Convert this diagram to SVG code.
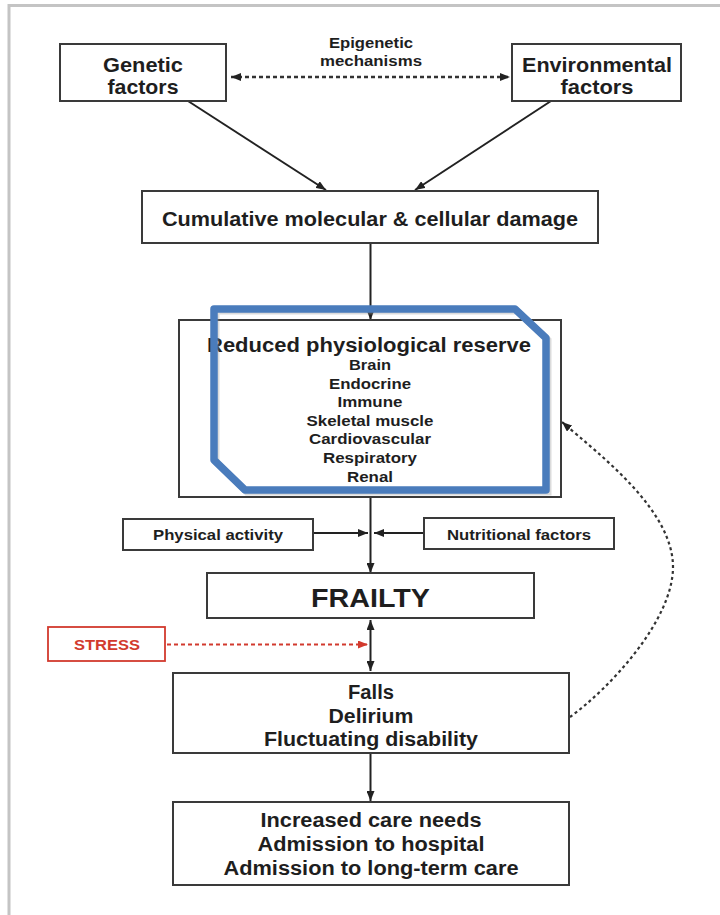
<svg xmlns="http://www.w3.org/2000/svg" width="720" height="915" viewBox="0 0 720 915">
<style>
.box{fill:#fff;stroke:#3a3a3a;stroke-width:2}
.t{font-family:"Liberation Sans",Arial,sans-serif;font-weight:bold;fill:#1e1e1e;text-anchor:middle}
.ln{fill:none;stroke:#222;stroke-width:2}
.dot{fill:none;stroke:#333;stroke-width:2.5;stroke-dasharray:4 3}
.red{fill:none;stroke:#d23a2e;stroke-width:2;stroke-dasharray:4 3}
</style>
<defs>
<marker id="ah" viewBox="0 0 10 8" refX="10" refY="4" markerWidth="10" markerHeight="8" markerUnits="userSpaceOnUse" orient="auto-start-reverse"><path d="M0,0 L10,4 L0,8 Z" fill="#222"/></marker>
<marker id="ahr" viewBox="0 0 10 8" refX="10" refY="4" markerWidth="10" markerHeight="8" markerUnits="userSpaceOnUse" orient="auto"><path d="M0,0 L10,4 L0,8 Z" fill="#d23a2e"/></marker>
</defs>
<rect width="720" height="915" fill="#fff"/>
<path d="M9,915 V5.5 H720" fill="none" stroke="#c4c4c4" stroke-width="3"/>

<g id="connectors">
<line class="dot" x1="231" y1="77" x2="510" y2="77" marker-start="url(#ah)" marker-end="url(#ah)"/>
<line class="ln" x1="188" y1="101" x2="326" y2="190" marker-end="url(#ah)"/>
<line class="ln" x1="551" y1="101" x2="415" y2="190" marker-end="url(#ah)"/>
<line class="ln" x1="370.5" y1="243" x2="370.5" y2="320" marker-end="url(#ah)"/>
<line class="ln" x1="370.5" y1="497" x2="370.5" y2="573" marker-end="url(#ah)"/>
<line class="ln" x1="313" y1="533" x2="368" y2="533" marker-end="url(#ah)"/>
<line class="ln" x1="424" y1="533" x2="374" y2="533" marker-end="url(#ah)"/>
<line class="ln" x1="370.5" y1="620" x2="370.5" y2="671" marker-start="url(#ah)" marker-end="url(#ah)"/>
<line class="red" x1="167" y1="644.5" x2="368" y2="644.5" marker-end="url(#ahr)"/>
<line class="ln" x1="370.5" y1="753" x2="370.5" y2="801" marker-end="url(#ah)"/>
<path d="M570,717 C610,688 673,620 673,567 C673,510 600,455 562,422" fill="none" stroke="#333" stroke-width="2.2" stroke-dasharray="3 3" marker-end="url(#ah)"/>
</g>

<g id="epigenetic">
<text class="t" x="371" y="48" font-size="14" textLength="84" lengthAdjust="spacingAndGlyphs">Epigenetic</text>
<text class="t" x="371" y="66" font-size="14" textLength="102" lengthAdjust="spacingAndGlyphs">mechanisms</text>
</g>

<g id="genetic">
<rect class="box" x="60" y="44" width="166" height="57"/>
<text class="t" x="143" y="72" font-size="21" textLength="80" lengthAdjust="spacingAndGlyphs">Genetic</text>
<text class="t" x="143" y="94" font-size="21" textLength="71" lengthAdjust="spacingAndGlyphs">factors</text>
</g>

<g id="environmental">
<rect class="box" x="512" y="44" width="169" height="57"/>
<text class="t" x="597" y="72" font-size="21" textLength="150" lengthAdjust="spacingAndGlyphs">Environmental</text>
<text class="t" x="597" y="94" font-size="21" textLength="73" lengthAdjust="spacingAndGlyphs">factors</text>
</g>

<g id="damage">
<rect class="box" x="142" y="191" width="456" height="52"/>
<text class="t" x="370" y="226" font-size="20" textLength="416" lengthAdjust="spacingAndGlyphs">Cumulative molecular &amp; cellular damage</text>
</g>

<g id="reserve">
<rect class="box" x="179" y="320" width="382" height="177"/>
<text class="t" x="369" y="352" font-size="20" textLength="324" lengthAdjust="spacingAndGlyphs">Reduced physiological reserve</text>
<text class="t" x="370" y="370" font-size="15" textLength="42" lengthAdjust="spacingAndGlyphs">Brain</text>
<text class="t" x="370" y="388.6" font-size="15" textLength="82" lengthAdjust="spacingAndGlyphs">Endocrine</text>
<text class="t" x="370" y="407.2" font-size="15" textLength="65" lengthAdjust="spacingAndGlyphs">Immune</text>
<text class="t" x="370" y="425.8" font-size="15" textLength="127" lengthAdjust="spacingAndGlyphs">Skeletal muscle</text>
<text class="t" x="370" y="444.4" font-size="15" textLength="122" lengthAdjust="spacingAndGlyphs">Cardiovascular</text>
<text class="t" x="370" y="463" font-size="15" textLength="94" lengthAdjust="spacingAndGlyphs">Respiratory</text>
<text class="t" x="370" y="481.6" font-size="15" textLength="46" lengthAdjust="spacingAndGlyphs">Renal</text>
</g>

<g id="highlight">
<path d="M216,311 H517 L548,340 V492 H247 L216,462 Z" fill="none" stroke="#999" stroke-opacity="0.35" stroke-width="7"/>
<path d="M214,309 H515 L546,338 V490 H245 L214,460 Z" fill="none" stroke="#4a7cbc" stroke-width="7.5" stroke-linejoin="round"/>
</g>

<g id="physical">
<rect class="box" x="123" y="519" width="190" height="31"/>
<text class="t" x="218" y="540" font-size="15" textLength="130" lengthAdjust="spacingAndGlyphs">Physical activity</text>
</g>

<g id="nutritional">
<rect class="box" x="424" y="518" width="190" height="31"/>
<text class="t" x="519" y="540" font-size="15" textLength="144" lengthAdjust="spacingAndGlyphs">Nutritional factors</text>
</g>

<g id="frailty">
<rect class="box" x="207" y="573" width="327" height="45"/>
<text class="t" x="370.5" y="607" font-size="26" textLength="119" lengthAdjust="spacingAndGlyphs">FRAILTY</text>
</g>

<g id="stress">
<rect x="48" y="627" width="117" height="34" fill="#fff" stroke="#d23a2e" stroke-width="1.8"/>
<text class="t" x="107" y="650" font-size="15" fill="#d23a2e" style="fill:#d23a2e" textLength="66" lengthAdjust="spacingAndGlyphs">STRESS</text>
</g>

<g id="outcomes">
<rect class="box" x="173" y="673" width="396" height="80"/>
<text class="t" x="371" y="699" font-size="19.5" textLength="46" lengthAdjust="spacingAndGlyphs">Falls</text>
<text class="t" x="371" y="723" font-size="19.5" textLength="85" lengthAdjust="spacingAndGlyphs">Delirium</text>
<text class="t" x="371" y="746" font-size="19.5" textLength="214" lengthAdjust="spacingAndGlyphs">Fluctuating disability</text>
</g>

<g id="care">
<rect class="box" x="173" y="802" width="396" height="83"/>
<text class="t" x="371" y="827" font-size="19.5" textLength="221" lengthAdjust="spacingAndGlyphs">Increased care needs</text>
<text class="t" x="371" y="851" font-size="19.5" textLength="227" lengthAdjust="spacingAndGlyphs">Admission to hospital</text>
<text class="t" x="371" y="875" font-size="19.5" textLength="295" lengthAdjust="spacingAndGlyphs">Admission to long-term care</text>
</g>
</svg>
